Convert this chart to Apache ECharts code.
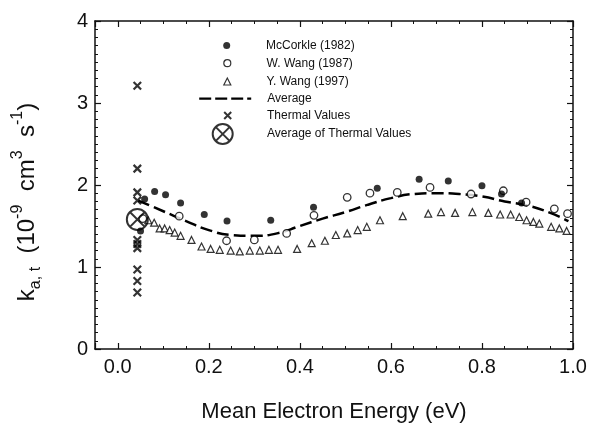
<!DOCTYPE html>
<html>
<head>
<meta charset="utf-8">
<script src="https://cdn.jsdelivr.net/npm/echarts@6/dist/echarts.min.js"></script>
<style>
  html, body { margin: 0; padding: 0; background: #fff; }
  #chart { width: 597px; height: 428px; }
</style>
</head>
<body>
<div id="chart"></div>
<script>
// Attachment rate coefficient vs. mean electron energy, [energy (eV), k (1e-9 cm3/s)]
const mcCorkle1982 = [
  [0.050, 1.44], [0.059, 1.83], [0.081, 1.92], [0.105, 1.88], [0.138, 1.78],
  [0.190, 1.64], [0.240, 1.56], [0.336, 1.57], [0.430, 1.73], [0.570, 1.96],
  [0.662, 2.07], [0.726, 2.05], [0.800, 1.99], [0.843, 1.89], [0.887, 1.78]
];
const wWang1987 = [
  [0.055, 1.59], [0.135, 1.62], [0.239, 1.32], [0.300, 1.33], [0.371, 1.41],
  [0.431, 1.63], [0.504, 1.85], [0.554, 1.90], [0.614, 1.91], [0.686, 1.97],
  [0.776, 1.89], [0.847, 1.93], [0.897, 1.79], [0.959, 1.71], [0.988, 1.65]
];
const yWang1997 = [
  [0.067, 1.57], [0.080, 1.54], [0.092, 1.47], [0.103, 1.47], [0.114, 1.45],
  [0.125, 1.42], [0.138, 1.38], [0.162, 1.33], [0.184, 1.25], [0.204, 1.22],
  [0.224, 1.21], [0.248, 1.20], [0.268, 1.19], [0.290, 1.20], [0.312, 1.20],
  [0.332, 1.21], [0.352, 1.21], [0.394, 1.22], [0.426, 1.29], [0.455, 1.32],
  [0.479, 1.39], [0.504, 1.41], [0.527, 1.45], [0.547, 1.49], [0.576, 1.57],
  [0.626, 1.62], [0.682, 1.65], [0.710, 1.67], [0.741, 1.66], [0.779, 1.67],
  [0.814, 1.66], [0.840, 1.64], [0.863, 1.64], [0.882, 1.61], [0.898, 1.57],
  [0.913, 1.55], [0.926, 1.53], [0.952, 1.49], [0.970, 1.47], [0.986, 1.44]
];
const averageCurve = [
  [0.045, 1.81], [0.10, 1.68], [0.15, 1.56], [0.20, 1.45], [0.25, 1.39],
  [0.30, 1.38], [0.35, 1.41], [0.40, 1.50], [0.45, 1.59], [0.50, 1.67],
  [0.55, 1.76], [0.60, 1.84], [0.65, 1.89], [0.70, 1.90], [0.75, 1.89],
  [0.80, 1.86], [0.85, 1.80], [0.90, 1.75], [0.95, 1.66], [0.99, 1.56]
];
const thermalValues = [
  [0.043, 3.21], [0.043, 2.20], [0.043, 1.91], [0.043, 1.81], [0.043, 1.33],
  [0.043, 1.28], [0.043, 1.23], [0.043, 0.97], [0.043, 0.83], [0.043, 0.69]
];
const thermalAverage = [[0.043, 1.58]];

const seriesNames = [
  'McCorkle (1982)', 'W. Wang (1987)', 'Y. Wang (1997)',
  'Average', 'Thermal Values', 'Average of Thermal Values'
];

const FONT = '"Liberation Sans", Arial, Helvetica, sans-serif';
const INK = '#111';

const crossSymbol = 'path://M0,0 L10,10 M10,0 L0,10';
const circledCross = 'path://M12,1 A11,11 0 1,1 11.99,1 Z M4.2,4.2 L19.8,19.8 M19.8,4.2 L4.2,19.8';

// one legend block per row so each icon can be sized and placed on its own;
// the text is pushed right so all labels share one left edge
const LEGEND_TEXT_X = 266;
function legendRow(name, top, left, w, h, itemStyle, extra) {
  const pad = LEGEND_TEXT_X - (left + w + 5);
  return Object.assign({
    data: [name], orient: 'vertical', left: left, top: top, padding: 0,
    itemWidth: w, itemHeight: h, selectedMode: false, symbolKeepAspect: true,
    textStyle: { fontFamily: FONT, fontSize: 12, color: INK, padding: [0, 0, 0, pad] },
    itemStyle: itemStyle
  }, extra || {});
}

const xAxisBase = {
  type: 'value', min: -0.05, max: 1.0, splitNumber: 5,
  splitLine: { show: false },
  axisLine: { show: true, onZero: false, lineStyle: { color: INK, width: 1.5 } },
  axisTick: { show: true, inside: true, length: 6, lineStyle: { color: INK, width: 1.2 } },
  minorTick: { show: true, splitNumber: 4, length: 3, lineStyle: { color: INK, width: 1 } }
};
const yAxisBase = {
  type: 'value', min: 0, max: 4, interval: 1,
  splitLine: { show: false },
  axisLine: { show: true, onZero: false, lineStyle: { color: INK, width: 1.5 } },
  axisTick: { show: true, inside: true, length: 6, lineStyle: { color: INK, width: 1.2 } },
  minorTick: { show: true, splitNumber: 10, length: 3, lineStyle: { color: INK, width: 1 } }
};

const option = {
  backgroundColor: '#fff',
  animation: false,
  grid: { left: 95, right: 24, top: 21, bottom: 79, containLabel: false },
  legend: [
    legendRow(seriesNames[0], 39.5, 223.2, 7, 7, { color: '#000', borderWidth: 0 }),
    legendRow(seriesNames[1], 57.2, 223.2, 7, 7, { color: '#fff', borderColor: '#000', borderWidth: 1.2 }),
    legendRow(seriesNames[2], 75.5, 223.2, 7, 7, { color: '#fff', borderColor: '#000', borderWidth: 1.2 }),
    legendRow(seriesNames[3], 92.6, 198, 52, 12, { color: 'rgba(0,0,0,0)', borderWidth: 0, opacity: 0 },
      { lineStyle: { color: '#000', width: 2.4, type: [12, 4] } }),
    legendRow(seriesNames[4], 109.5, 223.2, 7, 7, { color: 'rgba(0,0,0,0)', borderColor: '#000', borderWidth: 2 }),
    legendRow(seriesNames[5], 123, 211.7, 20, 20, { color: 'rgba(0,0,0,0)', borderColor: '#000', borderWidth: 2 })
  ],
  xAxis: [
    Object.assign({}, xAxisBase, {
      position: 'bottom',
      name: 'Mean Electron Energy (eV)',
      nameLocation: 'middle', nameGap: 52,
      nameTextStyle: { fontFamily: FONT, fontSize: 22, color: INK },
      axisLabel: {
        show: true, margin: 8, showMinLabel: false,
        fontFamily: FONT, fontSize: 20, color: INK,
        formatter: v => v.toFixed(1)
      }
    }),
    Object.assign({}, xAxisBase, { position: 'top', axisLabel: { show: false } })
  ],
  yAxis: [
    Object.assign({}, yAxisBase, {
      position: 'left',
      name: '{b|k}{s|a, t}{b|  (10}{p|-9}{b|  cm}{p|3}{b|  s}{p|-1}{b|)}',
      nameLocation: 'middle', nameRotate: 90, nameGap: 51,
      nameTextStyle: {
        fontFamily: FONT, color: INK, padding: [0, 34, 0, 0],
        rich: {
          b: { fontFamily: FONT, fontSize: 24, color: INK, lineHeight: 34 },
          s: { fontFamily: FONT, fontSize: 16, color: INK, verticalAlign: 'bottom' },
          p: { fontFamily: FONT, fontSize: 16, color: INK, verticalAlign: 'top' }
        }
      },
      axisLabel: { show: true, margin: 7, fontFamily: FONT, fontSize: 20, color: INK }
    }),
    Object.assign({}, yAxisBase, { position: 'right', axisLabel: { show: false } })
  ],
  series: [
    {
      name: seriesNames[3], type: 'line', data: averageCurve, smooth: true,
      symbol: 'none', z: 1,
      lineStyle: { color: '#000', width: 2.5, type: [12, 5] }
    },
    {
      name: seriesNames[0], type: 'scatter', data: mcCorkle1982, z: 4,
      symbol: 'circle', symbolSize: 7, itemStyle: { color: '#000' }
    },
    {
      name: seriesNames[1], type: 'scatter', data: wWang1987, z: 3,
      symbol: 'circle', symbolSize: 7.5,
      itemStyle: { color: '#fff', borderColor: '#000', borderWidth: 1.3 }
    },
    {
      name: seriesNames[2], type: 'scatter', data: yWang1997, z: 3,
      symbol: 'triangle', symbolSize: 7,
      itemStyle: { color: '#fff', borderColor: '#000', borderWidth: 1.2 }
    },
    {
      name: seriesNames[4], type: 'scatter', data: thermalValues, z: 3,
      symbol: crossSymbol, symbolSize: 7.5,
      itemStyle: { color: 'rgba(0,0,0,0)', borderColor: '#000', borderWidth: 2.2 }
    },
    {
      name: seriesNames[5], type: 'scatter', data: thermalAverage, z: 5,
      symbol: circledCross, symbolSize: 21,
      itemStyle: { color: 'rgba(0,0,0,0)', borderColor: '#000', borderWidth: 2 }
    }
  ]
};

const chart = echarts.init(document.getElementById('chart'), null, { renderer: 'canvas' });
chart.setOption(option);
</script>
</body>
</html>
